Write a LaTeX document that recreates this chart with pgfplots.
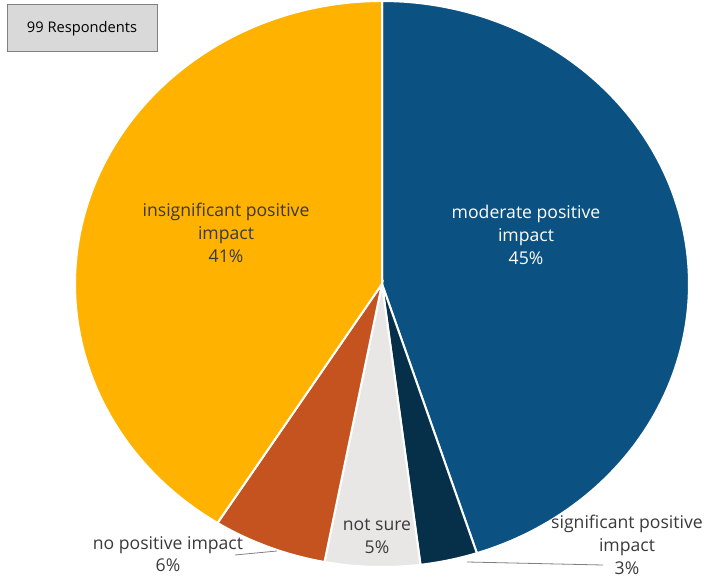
\documentclass[border=0pt]{standalone}
\usepackage{pgfplots}
\usepackage{pgfplotstable}
\pgfplotsset{compat=1.18}
\usepackage{fontspec}
\setmainfont{Open Sans}

\definecolor{moderate}{HTML}{0B5282}
\definecolor{significant}{HTML}{06304A}
\definecolor{notsure}{HTML}{E8E7E5}
\definecolor{nopositive}{HTML}{C4531F}
\definecolor{insignificant}{HTML}{FFB300}
\definecolor{labeltext}{HTML}{3A3A3A}
\definecolor{boxfill}{HTML}{D9D9D9}
\definecolor{boxline}{HTML}{808080}

% shares in percent, clockwise from 12 o'clock
\pgfplotstableread{
share colour
45 moderate
3 significant
5 notsure
6 nopositive
41 insignificant
}\piedata

% one wedge of the pie, angles taken from the table above
\newcommand\pieslice[2]{%
  \edef\doslice{\noexpand\addplot[draw=white, line width=1.5pt, fill=#2,
      domain=\csname sa#1\endcsname:\csname ea#1\endcsname, samples=120,
      variable=\noexpand\t]
    ({382+307*sin(\noexpand\t)},{-284+283*cos(\noexpand\t)})
    -- (axis cs:382,-284) -- cycle;}%
  \doslice}

\begin{document}
\begin{tikzpicture}
\def\acc{0}
\pgfplotsforeachungrouped \i in {0,...,4}{%
  \pgfplotstablegetelem{\i}{share}\of\piedata
  \pgfmathsetmacro\startang{\acc}%
  \pgfmathsetmacro\endang{\acc+3.6*\pgfplotsretval}%
  \expandafter\xdef\csname sa\i\endcsname{\startang}%
  \expandafter\xdef\csname ea\i\endcsname{\endang}%
  \xdef\acc{\endang}%
}
\begin{axis}[hide axis, scale only axis,
  width=528pt, height=434.25pt,
  xmin=0, xmax=704, ymin=-579, ymax=0, clip=false]
\pieslice{0}{moderate}
\pieslice{1}{significant}
\pieslice{2}{notsure}
\pieslice{3}{nopositive}
\pieslice{4}{insignificant}

% leader lines for the outside labels
\draw[gray, line width=0.6pt] (axis cs:235,-555) -- (axis cs:277,-551);
\draw[gray, line width=0.6pt] (axis cs:467,-562) -- (axis cs:603,-565);

\tikzset{lab/.style={align=center, font=\fontsize{13.2}{17}\selectfont, text=labeltext}}
\node[lab, text=white] at (axis cs:526,-235) {moderate positive\\impact\\45\%};
\node[lab] at (axis cs:226,-233) {insignificant positive\\impact\\41\%};
\node[lab] at (axis cs:377,-536.5) {not sure\\5\%};
\node[lab] at (axis cs:168,-554) {no positive impact\\6\%};
\node[lab] at (axis cs:627,-545) {significant positive\\impact\\3\%};

\node[draw=boxline, fill=boxfill, line width=0.75pt,
  minimum width=112.5pt, minimum height=35.25pt, inner sep=0pt,
  font=\fontsize{11}{12}\selectfont, text=black]
  at (axis cs:82,-28.5) {99 Respondents};
\end{axis}
\pgfresetboundingbox
\useasboundingbox (current axis.south west) rectangle (current axis.north east);
\end{tikzpicture}
\end{document}
